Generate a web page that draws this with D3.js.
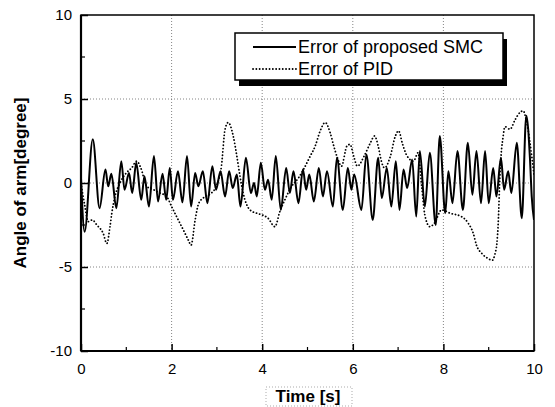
<!DOCTYPE html>
<html>
<head>
<meta charset="utf-8">
<script src="https://cdn.jsdelivr.net/npm/d3@7"></script>
<style>
  body { margin: 0; background: #fff; }
  text { font-family: "Liberation Sans", Arial, sans-serif; }
  .axisText { font-weight: bold; font-size: 17px; }
</style>
</head>
<body>
<div id="my_dataviz"></div>
<script>
// SMC error, peaks and troughs (s, degree)
var smcTime = [0.00, 0.08, 0.26, 0.41, 0.54, 0.60, 0.67, 0.78, 0.89, 0.96, 1.06, 1.13, 1.22, 1.33, 1.40, 1.50,
  1.61, 1.70, 1.80, 1.88, 1.96, 2.03, 2.14, 2.24, 2.34, 2.43, 2.52, 2.59, 2.69, 2.79, 2.90, 2.98, 3.08, 3.18,
  3.27, 3.35, 3.44, 3.52, 3.64, 3.75, 3.82, 3.88, 3.97, 4.06, 4.13, 4.21, 4.30, 4.41, 4.53, 4.61, 4.69, 4.80,
  4.90, 4.97, 5.04, 5.14, 5.25, 5.34, 5.43, 5.56, 5.65, 5.78, 5.89, 5.97, 6.03, 6.19, 6.30, 6.44, 6.56, 6.64,
  6.75, 6.85, 6.95, 7.03, 7.12, 7.20, 7.31, 7.40, 7.48, 7.59, 7.70, 7.83, 7.92, 8.04, 8.11, 8.20, 8.31, 8.43,
  8.54, 8.64, 8.73, 8.83, 8.92, 9.00, 9.10, 9.17, 9.27, 9.34, 9.43, 9.50, 9.62, 9.73, 9.83, 9.91, 9.95, 10.0];
var smcError = [0.3, -2.9, 2.6, -1.5, 0.8, -0.2, 0.55, -1.5, 1.3, -0.4, 0.6, -0.6, 1.2, -1.0, 0.4, -1.4,
  1.6, -1.1, 0.55, -1.0, 0.9, -1.0, 0.7, -1.15, 1.6, -1.4, 0.6, -0.2, 0.7, -1.2, 1.0, -0.4, 0.7, -0.8,
  0.7, -0.3, 0.5, -1.4, 1.5, -0.6, 0.0, -0.8, 1.2, -0.4, 0.2, -1.0, 1.6, -1.6, 0.9, -0.6, 0.7, -1.2,
  0.8, -0.4, 0.5, -1.1, 0.9, -0.8, 0.7, -1.4, 1.5, -1.6, 0.9, -0.4, 0.5, -1.6, 1.7, -2.2, 1.5, -0.9,
  0.9, -1.4, 1.3, -1.6, 0.8, -0.3, 1.4, -2.0, 1.9, -1.4, 1.8, -2.5, 2.8, -1.8, 0.7, -1.2, 1.9, -1.6,
  2.4, -0.7, 1.9, -1.2, 1.9, -1.2, 0.9, -0.8, 1.5, -0.4, 0.7, -0.6, 2.4, -2.1, 4.0, 1.5, -0.8, -2.2];

// PID error
var pidTime = [0.00, 0.08, 0.16, 0.25, 0.35, 0.49, 0.57, 0.64, 0.68, 0.75, 0.86, 1.00, 1.12, 1.23, 1.32, 1.45,
  1.60, 1.75, 1.89, 2.00, 2.11, 2.26, 2.37, 2.43, 2.52, 2.60, 2.75, 2.88, 3.00, 3.10, 3.18, 3.25, 3.36, 3.44,
  3.51, 3.58, 3.73, 3.88, 4.00, 4.13, 4.28, 4.39, 4.50, 4.65, 4.80, 4.91, 5.06, 5.17, 5.28, 5.39, 5.50, 5.58,
  5.66, 5.75, 5.87, 5.94, 6.02, 6.10, 6.25, 6.39, 6.48, 6.56, 6.63, 6.70, 6.83, 6.94, 7.01, 7.10, 7.20, 7.34,
  7.44, 7.52, 7.59, 7.70, 7.80, 7.96, 8.15, 8.40, 8.55, 8.66, 8.73, 8.85, 8.99, 9.08, 9.14, 9.18, 9.21, 9.25,
  9.32, 9.36, 9.47, 9.58, 9.69, 9.76, 9.84, 9.95, 10.0];
var pidError = [0.0, -1.3, -2.3, -2.2, -2.5, -3.0, -3.6, -2.6, -1.8, -0.8, 0.0, 0.6, 0.9, 1.3, 0.9, -0.2,
  -0.4, -0.6, -0.8, -1.4, -2.0, -2.8, -3.4, -3.7, -2.2, -1.2, -0.8, -0.6, -0.1, 1.0, 3.2, 3.6, 2.8, 1.6,
  0.4, -0.6, -1.6, -1.8, -1.9, -2.1, -2.6, -1.7, -1.0, -0.2, 0.3, 0.8, 1.6, 2.2, 3.1, 3.6, 3.0, 2.2,
  1.5, 1.0, 2.2, 2.3, 1.6, 1.0, 1.6, 2.4, 2.8, 2.2, 1.3, 0.9, 1.6, 2.8, 3.1, 2.3, 1.6, 1.3,
  1.8, -0.2, -1.9, -2.6, -2.4, -1.6, -1.8, -2.0, -2.4, -3.0, -3.7, -4.2, -4.5, -4.6, -4.2, -3.6, -2.4, 0.6,
  2.8, 3.35, 3.2, 3.75, 4.2, 4.3, 3.6, 1.6, 0.5];

var xTicks = [0, 2, 4, 6, 8, 10];
var yTicks = [-10, -5, 0, 5, 10];
var legendLabels = ["Error of proposed SMC", "Error of PID"];

var svgWidth = 555;
var svgHeight = 407;

// Chart Params
var margin = { top: 15, right: 21, bottom: 56, left: 81 };
var width = svgWidth - margin.left - margin.right;
var height = svgHeight - margin.top - margin.bottom;

var svg = d3.select("#my_dataviz")
  .append("svg")
  .attr("width", svgWidth)
  .attr("height", svgHeight);

var chartGroup = svg.append("g")
  .attr("transform", `translate(${margin.left}, ${margin.top})`);

var x = d3.scaleLinear().domain([0, 10]).range([0, width]);
var y = d3.scaleLinear().domain([-10, 10]).range([height, 0]);

// grid lines (dotted)
chartGroup.append("g")
  .selectAll("line")
  .data(xTicks.slice(1, -1))
  .enter()
  .append("line")
  .attr("x1", d => x(d)).attr("x2", d => x(d))
  .attr("y1", 0).attr("y2", height)
  .attr("stroke", "#666")
  .attr("stroke-width", 0.8)
  .attr("stroke-dasharray", "1,2");

chartGroup.append("g")
  .selectAll("line")
  .data(yTicks.slice(1, -1))
  .enter()
  .append("line")
  .attr("x1", 0).attr("x2", width)
  .attr("y1", d => y(d)).attr("y2", d => y(d))
  .attr("stroke", "#666")
  .attr("stroke-width", 0.8)
  .attr("stroke-dasharray", "1,2");

// axes, ticks pointing inward, plain hyphen for negatives
var fmt = d => String(d);
var xAxis = d3.axisBottom(x).tickValues(xTicks).tickFormat(fmt).tickSizeInner(-7).tickSizeOuter(0).tickPadding(12);
var yAxis = d3.axisLeft(y).tickValues(yTicks).tickFormat(fmt).tickSizeInner(-7).tickSizeOuter(0).tickPadding(9);

var gx = chartGroup.append("g")
  .attr("transform", `translate(0, ${height})`)
  .call(xAxis);
var gy = chartGroup.append("g").call(yAxis);

[gx, gy].forEach(function (g) {
  g.select(".domain").remove();
  g.selectAll("text")
    .style("font-family", "'Liberation Sans', Arial, sans-serif")
    .style("font-size", "15px")
    .attr("fill", "#000");
  g.selectAll(".tick line").attr("stroke", "#000").attr("stroke-width", 1.5);
});

// minor ticks
chartGroup.append("g")
  .selectAll("line")
  .data(d3.range(1, 10, 2))
  .enter()
  .append("line")
  .attr("x1", d => x(d)).attr("x2", d => x(d))
  .attr("y1", height).attr("y2", height - 4)
  .attr("stroke", "#000").attr("stroke-width", 1.2);

chartGroup.append("g")
  .selectAll("line")
  .data([-7.5, -2.5, 2.5, 7.5])
  .enter()
  .append("line")
  .attr("x1", 0).attr("x2", 4)
  .attr("y1", d => y(d)).attr("y2", d => y(d))
  .attr("stroke", "#000").attr("stroke-width", 1.2);

// frame
chartGroup.append("rect")
  .attr("width", width)
  .attr("height", height)
  .attr("fill", "none")
  .attr("stroke", "#000")
  .attr("stroke-width", 1.5);
chartGroup.append("line")
  .attr("x1", 0).attr("x2", 0).attr("y1", 0).attr("y2", height)
  .attr("stroke", "#000").attr("stroke-width", 2.2);
chartGroup.append("line")
  .attr("x1", 0).attr("x2", width).attr("y1", height).attr("y2", height)
  .attr("stroke", "#000").attr("stroke-width", 2.2);

// clip
svg.append("clipPath").attr("id", "plotClip")
  .append("rect").attr("width", width).attr("height", height);

var line = d3.line()
  .x(d => x(d[0]))
  .y(d => y(d[1]))
  .curve(d3.curveMonotoneX);

var pidData = pidTime.map((t, i) => [t, pidError[i]]);
var smcData = smcTime.map((t, i) => [t, smcError[i]]);

var plot = chartGroup.append("g").attr("clip-path", "url(#plotClip)");

plot.append("path")
  .datum(pidData)
  .attr("d", line)
  .attr("fill", "none")
  .attr("stroke", "#000")
  .attr("stroke-width", 1.8)
  .attr("stroke-linecap", "round")
  .attr("stroke-dasharray", "0.1,3.2");

plot.append("path")
  .datum(smcData)
  .attr("d", line)
  .attr("fill", "none")
  .attr("stroke", "#000")
  .attr("stroke-width", 2);

// legend with drop shadow
var legend = svg.append("g").attr("transform", "translate(235, 33)");
legend.append("rect")
  .attr("x", 4).attr("y", 6).attr("width", 268).attr("height", 47)
  .attr("fill", "#000");
legend.append("rect")
  .attr("width", 268).attr("height", 47)
  .attr("fill", "#fff")
  .attr("stroke", "#000")
  .attr("stroke-width", 1.5);

legendLabels.forEach(function (label, i) {
  var ly = 14 + i * 22;
  legend.append("line")
    .attr("x1", 18).attr("x2", 61)
    .attr("y1", ly).attr("y2", ly)
    .attr("stroke", "#000")
    .attr("stroke-width", i === 1 ? 1.8 : 2)
    .attr("stroke-linecap", i === 1 ? "round" : "butt")
    .attr("stroke-dasharray", i === 1 ? "0.1,3.2" : null);
  legend.append("text")
    .attr("x", 63)
    .attr("y", ly + 6)
    .style("font-size", "18px")
    .text(label);
});

// Create axes labels
svg.append("text")
  .attr("transform", `translate(26, ${margin.top + height / 2}) rotate(-90)`)
  .attr("text-anchor", "middle")
  .attr("class", "axisText")
  .text("Angle of arm[degree]");

svg.append("rect")
  .attr("x", 266).attr("y", 387).attr("width", 86).attr("height", 19)
  .attr("fill", "none")
  .attr("stroke", "#888")
  .attr("stroke-width", 0.7)
  .attr("stroke-dasharray", "1,2");

svg.append("text")
  .attr("x", 308)
  .attr("y", 402)
  .attr("text-anchor", "middle")
  .attr("class", "axisText")
  .text("Time [s]");
</script>
</body>
</html>
